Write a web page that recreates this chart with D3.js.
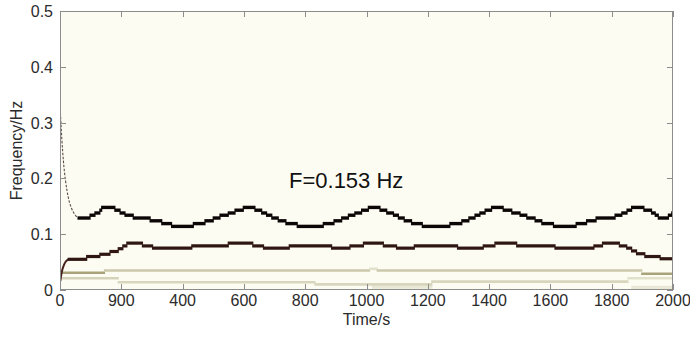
<!DOCTYPE html>
<html>
<head>
<meta charset="utf-8">
<script src="https://cdn.jsdelivr.net/npm/d3@7"></script>
<style>
  body { margin: 0; background: #ffffff; }
  svg { display: block; font-family: "Liberation Sans", Arial, sans-serif; }
</style>
</head>
<body>
<svg id="chart" width="690" height="338"></svg>
<script>
// ---- axis ticks ----
const xTickValues = [0, 200, 400, 600, 800, 1000, 1200, 1400, 1600, 1800, 2000];
const xTickLabels = ["0", "900", "400", "600", "800", "1000", "1200", "1400", "1600", "1800", "2000"];
const yTickValues = [0, 0.1, 0.2, 0.3, 0.4, 0.5];
const yTickLabels = ["0", "0.1", "0.2", "0.3", "0.4", "0.5"];

// ---- upper ridge: step start times (s) and frequency (Hz); each step holds until the next ----
const upperT = [59, 98, 114, 130, 136, 179, 196, 212, 239, 294, 332, 364, 435, 473,
                500, 522, 549, 571, 598, 636, 658, 674, 691, 712, 737, 774, 859, 894,
                919, 941, 962, 984, 1006, 1044, 1066, 1088, 1104, 1123, 1147, 1182, 1272, 1311,
                1334, 1354, 1370, 1387, 1408, 1446, 1474, 1501, 1523, 1550, 1572, 1610, 1684, 1718,
                1749, 1811, 1833, 1850, 1865, 1905, 1930, 1942, 1952, 1985, 1996];
const upperF = [0.129, 0.134, 0.138, 0.143, 0.148, 0.143, 0.138, 0.134, 0.129, 0.124, 0.119, 0.114, 0.119, 0.124,
                0.129, 0.134, 0.138, 0.143, 0.148, 0.143, 0.138, 0.134, 0.129, 0.124, 0.119, 0.114, 0.119, 0.124,
                0.129, 0.134, 0.138, 0.143, 0.148, 0.143, 0.138, 0.134, 0.129, 0.124, 0.119, 0.114, 0.119, 0.124,
                0.129, 0.134, 0.138, 0.143, 0.148, 0.143, 0.138, 0.134, 0.129, 0.124, 0.119, 0.114, 0.119, 0.124,
                0.129, 0.134, 0.138, 0.143, 0.148, 0.143, 0.138, 0.134, 0.129, 0.134, 0.138];
// fast initial decay of the upper ridge
const upperOnsetT = [0, 3, 6, 11, 18, 27, 38, 50, 59];
const upperOnsetF = [0.332, 0.300, 0.270, 0.232, 0.196, 0.166, 0.146, 0.134, 0.129];

// ---- lower ridge ----
const lowerT = [27, 87, 130, 163, 190, 205, 218, 269, 302, 430, 549, 629, 664, 748,
                886, 946, 990, 1055, 1098, 1156, 1297, 1381, 1419, 1490, 1615, 1742, 1770, 1825,
                1849, 1865, 1881, 1908, 1958];
const lowerF = [0.055, 0.060, 0.064, 0.069, 0.074, 0.079, 0.084, 0.079, 0.075, 0.079, 0.084, 0.079, 0.075, 0.079,
                0.075, 0.079, 0.084, 0.079, 0.075, 0.079, 0.075, 0.079, 0.084, 0.079, 0.075, 0.079, 0.084, 0.079,
                0.075, 0.070, 0.065, 0.060, 0.056];
const lowerOnsetT = [1, 4, 8, 13, 19, 27];
const lowerOnsetF = [0.016, 0.027, 0.037, 0.045, 0.051, 0.055];

// ---- weak components near the floor: step starts, frequency, relative amplitude ----
const bandAT = [8, 145, 1010, 1035, 1898];
const bandAF = [0.031, 0.035, 0.038, 0.035, 0.029];
const bandAAmp = [0.30, 0.20, 0.12, 0.20, 0.30];

const bandBT = [4, 190, 832, 1213, 1853];
const bandBF = [0.021, 0.014, 0.010, 0.015, 0.021];
const bandBAmp = [0.17, 0.16, 0.16, 0.16, 0.12];

const bandCStart = [1020, 1866];
const bandCEnd = [1213, 2000];
const bandCF = [0.006, 0.004];
const bandCAmp = [0.09, 0.09];

const upperAmp = 1.0;
const lowerAmp = 0.82;
const tEnd = 2000;

const annotation = "F=0.153 Hz";

// ---- layout ----
const svg = d3.select("#chart");
const m = { left: 60, right: 673, top: 11, bottom: 290 };

const x = d3.scaleLinear().domain([0, 2000]).range([m.left, m.right]);
const y = d3.scaleLinear().domain([0, 0.5]).range([m.bottom, m.top]);
const ampColor = d3.scaleLinear()
  .domain([0, 0.15, 0.3, 0.6, 1])
  .range(["#fcfcf2", "#dcdac3", "#a9a37c", "#5a2a22", "#0c0606"]);

// plot background
svg.append("rect")
  .attr("x", m.left).attr("y", m.top)
  .attr("width", m.right - m.left).attr("height", m.bottom - m.top)
  .attr("fill", "#fcfcf2");

const plot = svg.append("g")
  .attr("clip-path", "url(#clip)");
svg.append("clipPath").attr("id", "clip")
  .append("rect")
  .attr("x", m.left).attr("y", m.top)
  .attr("width", m.right - m.left).attr("height", m.bottom - m.top);

// build step segments from start-time arrays
function steps(T, F, A) {
  return T.map((t, i) => ({
    t0: t,
    t1: i + 1 < T.length ? T[i + 1] : tEnd,
    f: F[i],
    a: Array.isArray(A) ? A[i] : A
  }));
}

function drawSteps(segs, width) {
  plot.append("g").selectAll("line").data(segs).join("line")
    .attr("x1", d => x(d.t0) - 0.6)
    .attr("x2", d => x(d.t1) + 0.6)
    .attr("y1", d => y(d.f))
    .attr("y2", d => y(d.f))
    .attr("stroke", d => ampColor(d.a))
    .attr("stroke-width", width)
    .attr("stroke-linecap", "butt");
}

// weak floor components
drawSteps(bandCStart.map((t, i) => ({ t0: t, t1: bandCEnd[i], f: bandCF[i], a: bandCAmp[i] })), 4);
drawSteps(steps(bandBT, bandBF, bandBAmp), 2.6);
drawSteps(steps(bandAT, bandAF, bandAAmp), 2.6);

// onsets
const onsetLine = d3.line().x(d => x(d[0])).y(d => y(d[1])).curve(d3.curveMonotoneX);
plot.append("path")
  .datum(lowerOnsetT.map((t, i) => [t, lowerOnsetF[i]]))
  .attr("d", onsetLine)
  .attr("fill", "none")
  .attr("stroke", ampColor(0.7))
  .attr("stroke-width", 2);
plot.append("path")
  .datum(upperOnsetT.map((t, i) => [t, upperOnsetF[i]]))
  .attr("d", onsetLine)
  .attr("fill", "none")
  .attr("stroke", "#5a4a48")
  .attr("stroke-width", 1.1)
  .attr("stroke-dasharray", "2.5,1.5");

// main ridges
drawSteps(steps(lowerT, lowerF, lowerAmp), 3.2);
drawSteps(steps(upperT, upperF, upperAmp), 3.4);

// ---- axes (box with inward ticks) ----
const axisColor = "#8c8c8c";
const textColor = "#2b2b2b";

svg.append("rect")
  .attr("x", m.left + 0.5).attr("y", m.top + 0.5)
  .attr("width", m.right - m.left - 1).attr("height", m.bottom - m.top - 1)
  .attr("fill", "none").attr("stroke", axisColor).attr("stroke-width", 1);

const tickLen = 6;
const gx = svg.append("g");
xTickValues.forEach((v, i) => {
  const px = Math.round(x(v)) + 0.5;
  gx.append("line").attr("x1", px).attr("x2", px)
    .attr("y1", m.bottom).attr("y2", m.bottom - tickLen)
    .attr("stroke", axisColor);
  gx.append("line").attr("x1", px).attr("x2", px)
    .attr("y1", m.top).attr("y2", m.top + tickLen)
    .attr("stroke", axisColor);
  gx.append("text")
    .attr("x", x(v)).attr("y", m.bottom + 16)
    .attr("text-anchor", "middle")
    .attr("font-size", 16).attr("fill", textColor)
    .text(xTickLabels[i]);
});

const gy = svg.append("g");
yTickValues.forEach((v, i) => {
  const py = Math.round(y(v)) + 0.5;
  gy.append("line").attr("x1", m.left).attr("x2", m.left + tickLen)
    .attr("y1", py).attr("y2", py).attr("stroke", axisColor);
  gy.append("line").attr("x1", m.right).attr("x2", m.right - tickLen)
    .attr("y1", py).attr("y2", py).attr("stroke", axisColor);
  gy.append("text")
    .attr("x", m.left - 7).attr("y", y(v) + 6)
    .attr("text-anchor", "end")
    .attr("font-size", 16).attr("fill", textColor)
    .text(yTickLabels[i]);
});

svg.append("text")
  .attr("x", (m.left + m.right) / 2).attr("y", 325)
  .attr("text-anchor", "middle")
  .attr("font-size", 16).attr("fill", textColor)
  .text("Time/s");

svg.append("text")
  .attr("transform", `translate(22,${(m.top + m.bottom) / 2}) rotate(-90)`)
  .attr("text-anchor", "middle")
  .attr("font-size", 16).attr("fill", textColor)
  .text("Frequency/Hz");

svg.append("text")
  .attr("x", 289).attr("y", 188)
  .attr("font-size", 22).attr("fill", "#111")
  .text(annotation);
</script>
</body>
</html>
